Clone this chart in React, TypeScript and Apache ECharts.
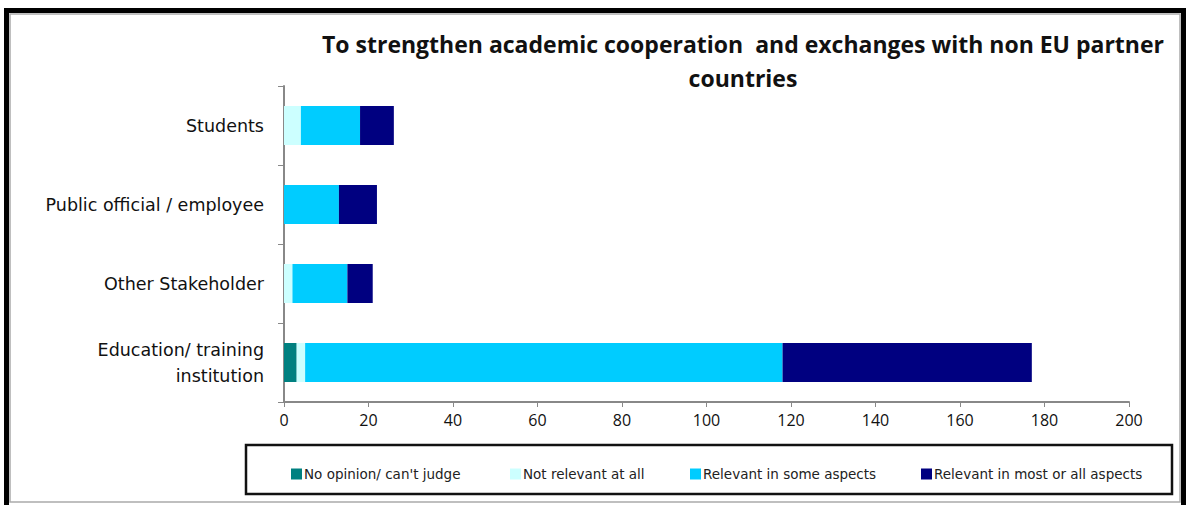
import React, { useEffect, useRef } from "react";
import * as echarts from "echarts";

const categories = ["Education/ training\ninstitution", "Other Stakeholder", "Public official / employee", "Students"];
const seriesNames = ["No opinion/ can't judge", "Not relevant at all", "Relevant in some aspects", "Relevant in most or all aspects"];
const noOpinion = [3, 0, 0, 0];
const notRelevant = [2, 2, 0, 4];
const relevantSome = [113, 13, 13, 14];
const relevantMost = [59, 6, 9, 8];
const xTicks = { min: 0, max: 200, interval: 20 };
const colors = ["#008080", "#CCFFFF", "#00CCFF", "#000080"];
const titleText = "To strengthen academic cooperation  and exchanges with non EU partner\ncountries";

const legendLefts = [286, 505, 685, 916];

export default function App() {
  const ref = useRef<HTMLDivElement>(null);
  useEffect(() => {
    if (!ref.current) return;
    const chart = echarts.init(ref.current, undefined, { renderer: "svg" });
    const values = [noOpinion, notRelevant, relevantSome, relevantMost];
    chart.setOption({
      animation: false,
      backgroundColor: "#ffffff",
      title: {
        text: titleText,
        left: 738,
        top: 22,
        textAlign: "center",
        textStyle: {
          fontFamily: "Open Sans",
          fontWeight: "bold",
          fontSize: 23,
          lineHeight: 34,
          color: "#111",
        },
      },
      grid: { left: 284, right: 62, top: 86, bottom: 103, containLabel: false },
      xAxis: {
        type: "value",
        min: xTicks.min,
        max: xTicks.max,
        interval: xTicks.interval,
        axisLine: { show: true, lineStyle: { color: "#888", width: 2 } },
        axisTick: { show: true, length: 5, lineStyle: { color: "#888" } },
        splitLine: { show: false },
        axisLabel: { fontFamily: "Open Sans", fontSize: 16, color: "#111", margin: 10 },
      },
      yAxis: {
        type: "category",
        data: categories,
        axisLine: { show: true, lineStyle: { color: "#888", width: 2 } },
        axisTick: { show: true, length: 6, lineStyle: { color: "#888" } },
        axisLabel: { fontFamily: "DejaVu Sans", fontSize: 17.5, color: "#111", margin: 20, lineHeight: 26, align: "right" },
      },
      legend: seriesNames.map((n, i) => ({
        data: [n],
        left: legendLefts[i],
        top: 462,
        itemWidth: 11,
        itemHeight: 11,
        itemGap: 0,
        icon: "rect",
        textStyle: { fontFamily: "DejaVu Sans", fontSize: 13.5, color: "#222", padding: [0, 0, 0, -3] },
      })),
      series: seriesNames.map((n, i) => ({
        name: n,
        type: "bar",
        stack: "total",
        barWidth: 39,
        data: values[i],
        itemStyle: { color: colors[i] },
      })),
      graphic: [
        { type: "rect", shape: { x: 6.5, y: 10.5, width: 1177, height: 500 }, style: { fill: "none", stroke: "#000", lineWidth: 5 }, z: 10 },
        { type: "rect", shape: { x: 10, y: 14, width: 1170, height: 488 }, style: { fill: "none", stroke: "#aaa", lineWidth: 1.5 }, z: 10 },
        { type: "rect", shape: { x: 246, y: 445, width: 926, height: 49 }, style: { fill: "none", stroke: "#111", lineWidth: 2.5 }, z: 10 },
      ],
    });
    return () => chart.dispose();
  }, []);
  return <div ref={ref} style={{ position: "absolute", left: 0, top: 0, width: 1191, height: 505 }} />;
}
